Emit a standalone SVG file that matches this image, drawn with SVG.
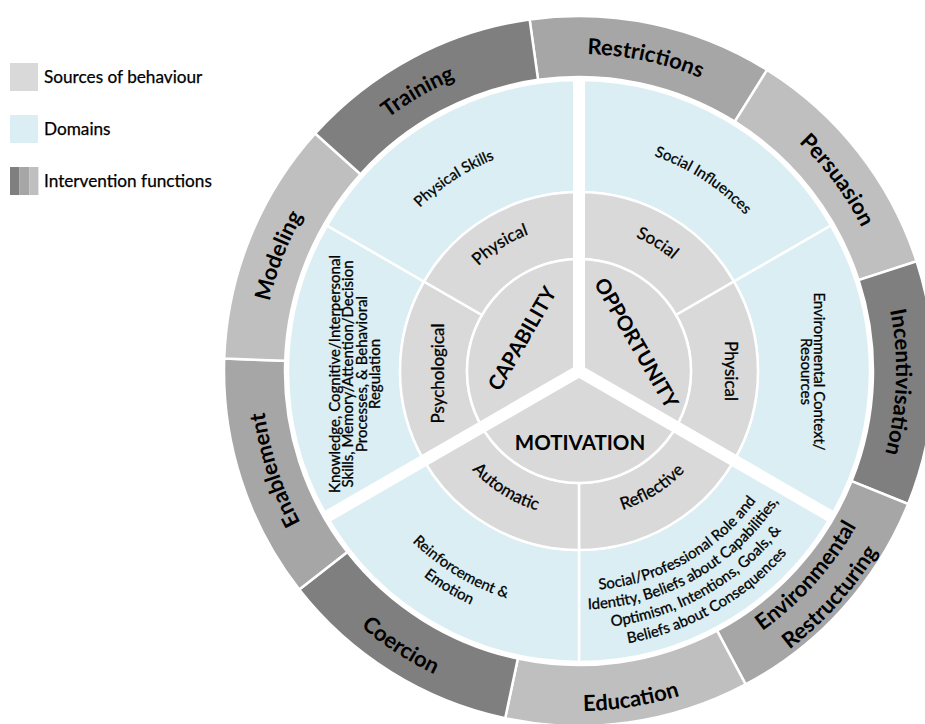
<svg xmlns="http://www.w3.org/2000/svg" width="925" height="724" viewBox="0 0 925 724">
<style>
.seg{stroke:#fff;stroke-width:2.5}
.dark{fill:#7f7f7f}.mid{fill:#a6a6a6}.light{fill:#bfbfbf}
.dom{fill:#daeef3;stroke:#fff;stroke-width:2.5}
.src{fill:#d9d9d9;stroke:#fff;stroke-width:2.5}
.core{fill:#d9d9d9}
text{font-family:Lato,"Open Sans","Liberation Sans",sans-serif;fill:#000}
.tout{font-weight:700;font-size:22px}
.tcore{font-weight:700;font-size:20.5px}
.tsrc{font-size:17px;stroke:#000;stroke-width:0.3}
.tdom{font-size:15px;stroke:#000;stroke-width:0.3}
.tleg{font-size:17.2px;stroke:#000;stroke-width:0.25}
.spoke{stroke:#fff;stroke-width:12}
</style>
<defs>
<path id="a317" d="M304.47 212.5 A317 317 0 0 1 853.53 212.5"/>
<path id="a228" d="M381.55 257 A228 228 0 0 1 776.45 257"/>
<path id="a145t" d="M452.99 298.25 A145.5 145.5 0 0 1 705.01 298.25"/>
<path id="b336" d="M288.01 539 A336 336 0 0 0 869.99 539"/>
<path id="b340" d="M284.55 541 A340 340 0 0 0 873.45 541"/>
<path id="b318" d="M303.6 530 A318 318 0 0 0 854.4 530"/>
<path id="b349" d="M276.76 545.5 A349 349 0 0 0 881.24 545.5"/>
<path id="b219" d="M388.91 480.75 A219.5 219.5 0 0 0 769.09 480.75"/>
<path id="b238" d="M372.45 490.25 A238.5 238.5 0 0 0 785.55 490.25"/>
<path id="b257" d="M356 499.75 A257.5 257.5 0 0 0 802 499.75"/>
<path id="b276" d="M339.55 509.25 A276.5 276.5 0 0 0 818.45 509.25"/>
<path id="b145" d="M452.99 443.75 A145.5 145.5 0 0 0 705.01 443.75"/>
</defs>

<g id="legend">
<g id="legend-sources"><rect x="10" y="63" width="28" height="28" fill="#d9d9d9"/><text class="tleg" x="44" y="83">Sources of behaviour</text></g>
<g id="legend-domains"><rect x="10" y="115" width="28" height="28" fill="#daeef3"/><text class="tleg" x="44" y="134.5">Domains</text></g>
<g id="legend-functions"><rect x="10" y="167" width="9.5" height="28" fill="#7f7f7f"/><rect x="19.5" y="167" width="9.7" height="28" fill="#a6a6a6"/><rect x="29.2" y="167" width="9.2" height="28" fill="#bfbfbf"/><text class="tleg" x="44" y="187">Intervention functions</text></g>
</g>

<g id="intervention-functions">
<g id="fn-restrictions"><path class="seg mid" d="M529.59 19.45 A355 355 0 0 1 767.12 69.94 L734.8 121.67 A294 294 0 0 0 538.08 79.86 Z"/><text class="tout" text-anchor="middle" transform="rotate(12 579 371)"><textPath href="#a317" startOffset="50%">Restrictions</textPath></text></g>
<g id="fn-persuasion"><path class="seg light" d="M767.12 69.94 A355 355 0 0 1 916.63 261.3 L858.61 280.15 A294 294 0 0 0 734.8 121.67 Z"/><text class="tout" text-anchor="middle" transform="rotate(53.5 579 371)"><textPath href="#a317" startOffset="50%">Persuasion</textPath></text></g>
<g id="fn-incentivisation"><path class="seg dark" d="M916.63 261.3 A355 355 0 0 1 908.15 503.99 L851.59 481.14 A294 294 0 0 0 858.61 280.15 Z"/><text class="tout" text-anchor="middle" transform="rotate(92 579 371)"><textPath href="#a317" startOffset="50%">Incentivisation</textPath></text></g>
<g id="fn-environmental-restructuring"><path class="seg mid" d="M908.15 503.99 A355 355 0 0 1 745.66 684.45 L717.02 630.59 A294 294 0 0 0 851.59 481.14 Z"/><text class="tout" text-anchor="middle" transform="rotate(-48 579 371)"><textPath href="#b318" startOffset="50%">Environmental</textPath></text><text class="tout" text-anchor="middle" transform="rotate(-48 579 371)"><textPath href="#b349" startOffset="50%">Restructuring</textPath></text></g>
<g id="fn-education"><path class="seg light" d="M745.66 684.45 A355 355 0 0 1 505.19 718.24 L517.87 658.58 A294 294 0 0 0 717.02 630.59 Z"/><text class="tout" text-anchor="middle" transform="rotate(-9 579 371)"><textPath href="#b340" startOffset="50%">Education</textPath></text></g>
<g id="fn-coercion"><path class="seg dark" d="M505.19 718.24 A355 355 0 0 1 299.26 589.56 L347.33 552 A294 294 0 0 0 517.87 658.58 Z"/><text class="tout" text-anchor="middle" transform="rotate(33 579 371)"><textPath href="#b336" startOffset="50%">Coercion</textPath></text></g>
<g id="fn-enablement"><path class="seg mid" d="M299.26 589.56 A355 355 0 0 1 224.22 358.61 L285.18 360.74 A294 294 0 0 0 347.33 552 Z"/><text class="tout" text-anchor="middle" transform="rotate(-108 579 371)"><textPath href="#a317" startOffset="50%">Enablement</textPath></text></g>
<g id="fn-modeling"><path class="seg light" d="M224.22 358.61 A355 355 0 0 1 315.19 133.46 L360.52 174.28 A294 294 0 0 0 285.18 360.74 Z"/><text class="tout" text-anchor="middle" transform="rotate(-69 579 371)"><textPath href="#a317" startOffset="50%">Modeling</textPath></text></g>
<g id="fn-training"><path class="seg dark" d="M315.19 133.46 A355 355 0 0 1 529.59 19.45 L538.08 79.86 A294 294 0 0 0 360.52 174.28 Z"/><text class="tout" text-anchor="middle" transform="rotate(-30 579 371)"><textPath href="#a317" startOffset="50%">Training</textPath></text></g>
</g>

<g id="domains">
<g id="dom-social-influences"><path class="dom" d="M579 80 A291 291 0 0 1 831.01 225.5 L734.02 281.5 A179 179 0 0 0 579 192 Z"/><text class="tdom" text-anchor="middle" transform="rotate(33 579 371)"><textPath href="#a228" startOffset="50%">Social Influences</textPath></text></g>
<g id="dom-environmental-context"><path class="dom" d="M831.01 225.5 A291 291 0 0 1 831.01 516.5 L734.02 460.5 A179 179 0 0 0 734.02 281.5 Z"/><text class="tdom" text-anchor="middle" transform="translate(807.5 371.5) rotate(90)"><tspan x="0" y="-6.5">Environmental Context/</tspan><tspan x="0" y="7">Resources</tspan></text></g>
<g id="dom-social-professional"><path class="dom" d="M831.01 516.5 A291 291 0 0 1 579 662 L579 550 A179 179 0 0 0 734.02 460.5 Z"/><g transform="rotate(-29.5 579 371)"><text class="tdom" text-anchor="middle"><textPath href="#b219" startOffset="50%">Social/Professional Role and</textPath></text><text class="tdom" text-anchor="middle"><textPath href="#b238" startOffset="50%">Identity, Beliefs about Capabilities,</textPath></text><text class="tdom" text-anchor="middle"><textPath href="#b257" startOffset="50%">Optimism, Intentions, Goals, &amp;</textPath></text><text class="tdom" text-anchor="middle"><textPath href="#b276" startOffset="50%">Beliefs about Consequences</textPath></text></g></g>
<g id="dom-reinforcement-emotion"><path class="dom" d="M579 662 A291 291 0 0 1 326.99 516.5 L423.98 460.5 A179 179 0 0 0 579 550 Z"/><g transform="rotate(31 579 371)"><text class="tdom" text-anchor="middle"><textPath href="#b238" startOffset="50%">Reinforcement &amp;</textPath></text><text class="tdom" text-anchor="middle"><textPath href="#b257" startOffset="50%">Emotion</textPath></text></g></g>
<g id="dom-knowledge"><path class="dom" d="M326.99 516.5 A291 291 0 0 1 326.99 225.5 L423.98 281.5 A179 179 0 0 0 423.98 460.5 Z"/><text class="tdom" text-anchor="middle" transform="translate(359.75 374) rotate(-90)"><tspan x="0" y="-20.25">Knowledge, Cognitive/Interpersonal</tspan><tspan x="0" y="-6.75">Skills, Memory/Attention/Decision</tspan><tspan x="0" y="6.75">Processes, &amp; Behavioral</tspan><tspan x="0" y="20.25">Regulation</tspan></text></g>
<g id="dom-physical-skills"><path class="dom" d="M326.99 225.5 A291 291 0 0 1 579 80 L579 192 A179 179 0 0 0 423.98 281.5 Z"/><text class="tdom" text-anchor="middle" transform="rotate(-33 579 371)"><textPath href="#a228" startOffset="50%">Physical Skills</textPath></text></g>
</g>

<g id="sources">
<g id="src-social"><path class="src" d="M579 192 A179 179 0 0 1 734.02 281.5 L676 315 A112 112 0 0 0 579 259 Z"/><text class="tsrc" text-anchor="middle" transform="rotate(31.5 579 371)"><textPath href="#a145t" startOffset="50%">Social</textPath></text></g>
<g id="src-physical-opportunity"><path class="src" d="M734.02 281.5 A179 179 0 0 1 734.02 460.5 L676 427 A112 112 0 0 0 676 315 Z"/><text class="tsrc" text-anchor="middle" transform="translate(724.5 371) rotate(90)">Physical</text></g>
<g id="src-reflective"><path class="src" d="M734.02 460.5 A179 179 0 0 1 579 550 L579 483 A112 112 0 0 0 676 427 Z"/><text class="tsrc" text-anchor="middle" transform="rotate(-32 579 371)"><textPath href="#b145" startOffset="50%">Reflective</textPath></text></g>
<g id="src-automatic"><path class="src" d="M579 550 A179 179 0 0 1 423.98 460.5 L482 427 A112 112 0 0 0 579 483 Z"/><text class="tsrc" text-anchor="middle" transform="rotate(32 579 371)"><textPath href="#b145" startOffset="50%">Automatic</textPath></text></g>
<g id="src-psychological"><path class="src" d="M423.98 460.5 A179 179 0 0 1 423.98 281.5 L482 315 A112 112 0 0 0 482 427 Z"/><text class="tsrc" text-anchor="middle" transform="translate(444 373.5) rotate(-90)">Psychological</text></g>
<g id="src-physical-capability"><path class="src" d="M423.98 281.5 A179 179 0 0 1 579 192 L579 259 A112 112 0 0 0 482 315 Z"/><text class="tsrc" text-anchor="middle" transform="rotate(-32 579 371)"><textPath href="#a145t" startOffset="50%">Physical</textPath></text></g>
</g>

<g id="core">
<g id="core-opportunity"><path class="core" d="M579 371 L579 259 A112 112 0 0 1 676 427 Z"/><text class="tcore" text-anchor="middle" transform="translate(636.5 343) rotate(60)" y="7.3">OPPORTUNITY</text></g>
<g id="core-motivation"><path class="core" d="M579 371 L676 427 A112 112 0 0 1 482 427 Z"/><text class="tcore" text-anchor="middle" x="580" y="450">MOTIVATION</text></g>
<g id="core-capability"><path class="core" d="M579 371 L482 427 A112 112 0 0 1 579 259 Z"/><text class="tcore" text-anchor="middle" transform="translate(522 338.5) rotate(-60)" y="7.3">CAPABILITY</text></g>
<circle cx="579" cy="371" r="112" fill="none" stroke="#fff" stroke-width="2.5"/>
</g>

<g id="spokes">
<line class="spoke" x1="579" y1="371" x2="579" y2="79"/>
<line class="spoke" x1="579" y1="371" x2="831.9" y2="517"/>
<line class="spoke" x1="579" y1="371" x2="326.1" y2="517"/>
<circle cx="579" cy="371" r="7" fill="#fff"/>
</g>
</svg>
